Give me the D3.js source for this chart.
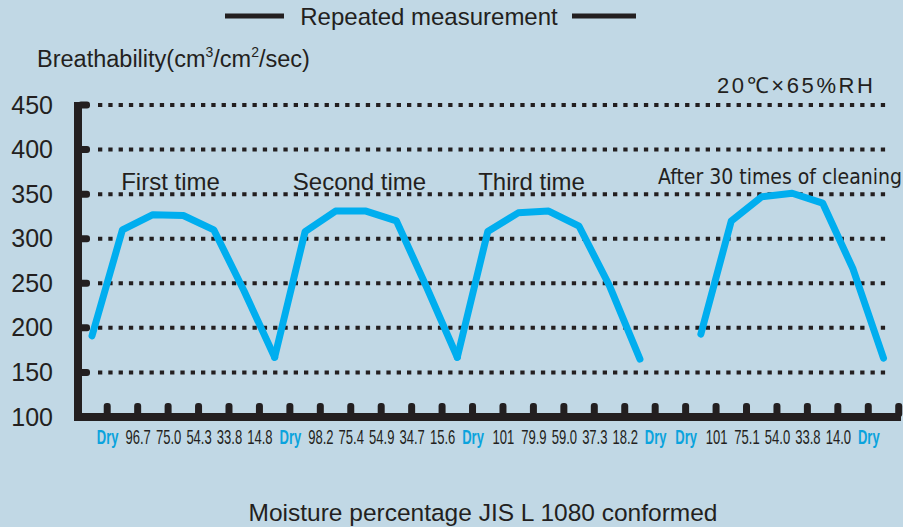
<!DOCTYPE html>
<html>
<head>
<meta charset="utf-8">
<script src="https://cdn.jsdelivr.net/npm/d3@7"></script>
<style>
  body { margin: 0; background: #c1d8e5; }
  svg { display: block; }
  text { font-family: "Liberation Sans", Arial, sans-serif; }
</style>
</head>
<body>
<div id="chart"></div>
<script>
// x axis labels (moisture %)
var xLabels = ["Dry","96.7","75.0","54.3","33.8","14.8","Dry","98.2","75.4","54.9","34.7","15.6",
               "Dry","101","79.9","59.0","37.3","18.2","Dry","Dry","101","75.1","54.0","33.8","14.0","Dry"];

// breathability values, 7 points per run
var firstTime  = [191, 310, 327, 326, 310, 241, 167];
var secondTime = [167, 308, 331, 331, 320, 245, 167];
var thirdTime  = [167, 308, 329, 331, 314, 247, 165];
var afterClean = [193, 320, 347, 351, 340, 266, 166];

// where each run starts on the x index
var runStart = [0, 6, 12, 20];
var runNames = ["First time", "Second time", "Third time", "After 30 times of cleaning"];

var yTicks = [100, 150, 200, 250, 300, 350, 400, 450];
var gridVals = [150, 200, 250, 300, 350, 400, 450];

var W = 903, H = 527;
var ink = "#231f20";
var lineColor = "#00aeef";

var svg = d3.select("#chart").append("svg")
  .attr("width", W)
  .attr("height", H);

var x = d3.scaleLinear().domain([0, 26]).range([92, 883.5]);
var y = d3.scaleLinear().domain([100, 450]).range([417, 105]);

// dotted grid
svg.append("g")
  .selectAll("line")
  .data(gridVals)
  .enter()
  .append("line")
    .attr("x1", 98)
    .attr("x2", 886)
    .attr("y1", d => y(d))
    .attr("y2", d => y(d))
    .attr("stroke", ink)
    .attr("stroke-width", 4)
    .attr("stroke-dasharray", "4.3,6");

// y axis (labels only, line drawn below)
var yAxis = svg.append("g")
  .attr("transform", "translate(78,0)")
  .call(d3.axisLeft(y).tickValues(yTicks).tickSize(0).tickPadding(25));
yAxis.select(".domain").remove();
yAxis.selectAll("text")
  .attr("font-size", 25)
  .style("fill", ink)
  .style("font-family", "'Liberation Sans', Arial, sans-serif");

// y nubs
svg.append("g")
  .selectAll("rect")
  .data(yTicks.filter(d => d > 100))
  .enter()
  .append("rect")
    .attr("x", 78)
    .attr("y", d => y(d) - 3.5)
    .attr("width", 12)
    .attr("height", 7)
    .attr("rx", 3)
    .attr("fill", ink);

// x axis: labels sit half a step right of the points
var xl = d3.scaleLinear().domain([0, 25]).range([x(0.5), x(25.5)]);
var xAxis = svg.append("g")
  .attr("transform", "translate(0,417)")
  .call(d3.axisBottom(xl).tickValues(d3.range(26)).tickSize(0).tickPadding(12)
        .tickFormat(i => xLabels[i]));
xAxis.select(".domain").remove();
xAxis.selectAll("text")
  .attr("font-size", 21)
  .attr("transform", "scale(0.62,1)")
  .style("font-family", "'Liberation Sans', Arial, sans-serif")
  .style("font-weight", i => xLabels[i] === "Dry" ? "bold" : "normal")
  .style("fill", i => xLabels[i] === "Dry" ? "#0aa3dd" : ink);

// x nubs
svg.append("g")
  .selectAll("rect")
  .data(d3.range(27))
  .enter()
  .append("rect")
    .attr("x", d => x(d + 0.5) - 3.5)
    .attr("y", 403)
    .attr("width", 7)
    .attr("height", 14)
    .attr("rx", 3)
    .attr("fill", ink);

// axis lines
svg.append("line")
  .attr("x1", 78).attr("x2", 78)
  .attr("y1", 102).attr("y2", 421)
  .attr("stroke", ink).attr("stroke-width", 8);
svg.append("line")
  .attr("x1", 74).attr("x2", 901)
  .attr("y1", 417).attr("y2", 417)
  .attr("stroke", ink).attr("stroke-width", 8);

// runs
var runs = [firstTime, secondTime, thirdTime, afterClean];
var line = d3.line()
  .x(d => x(d.i))
  .y(d => y(d.v));

runs.forEach(function(vals, k){
  var pts = vals.map((v, j) => ({ i: runStart[k] + j, v: v }));
  svg.append("path")
    .datum(pts)
    .attr("d", line)
    .attr("fill", "none")
    .attr("stroke", lineColor)
    .attr("stroke-width", 7)
    .attr("stroke-linejoin", "round")
    .attr("stroke-linecap", "round");
});

// run names
var nameX = [170.5, 359.5, 531.5, 780];
svg.append("g")
  .selectAll("text")
  .data(runNames)
  .enter()
  .append("text")
    .attr("x", (d, k) => nameX[k])
    .attr("y", (d, k) => k === 3 ? 184 : 190)
    .attr("text-anchor", "middle")
    .style("fill", ink)
    .style("font-size", (d, k) => k === 3 ? "21px" : "24px")
    .style("font-family", (d, k) => k === 3 ? "'DejaVu Sans Condensed', sans-serif" : null)
    .text(d => d);

// title legend
svg.append("line")
  .attr("x1", 225).attr("x2", 284).attr("y1", 16).attr("y2", 16)
  .attr("stroke", ink).attr("stroke-width", 5);
svg.append("line")
  .attr("x1", 572).attr("x2", 636).attr("y1", 16).attr("y2", 16)
  .attr("stroke", ink).attr("stroke-width", 5);
svg.append("text")
  .attr("x", 429).attr("y", 25)
  .attr("text-anchor", "middle")
  .style("fill", ink)
  .style("font-size", "24px")
  .text("Repeated measurement");

// y title
var yt = svg.append("text")
  .attr("x", 37).attr("y", 67)
  .style("fill", ink)
  .style("font-size", "23.5px");
yt.append("tspan").text("Breathability(cm");
yt.append("tspan").style("font-size", "14px").attr("dy", -10).text("3");
yt.append("tspan").attr("dy", 10).text("/cm");
yt.append("tspan").style("font-size", "14px").attr("dy", -10).text("2");
yt.append("tspan").attr("dy", 10).text("/sec)");

// conditions
svg.append("text")
  .attr("x", 717).attr("y", 93)
  .attr("textLength", 156)
  .attr("lengthAdjust", "spacing")
  .style("fill", ink)
  .style("font-size", "22px")
  .text("20℃×65%RH");

// x title
svg.append("text")
  .attr("x", 483).attr("y", 521)
  .attr("text-anchor", "middle")
  .style("fill", ink)
  .style("font-size", "24.5px")
  .text("Moisture percentage JIS L 1080 conformed");
</script>
</body>
</html>
